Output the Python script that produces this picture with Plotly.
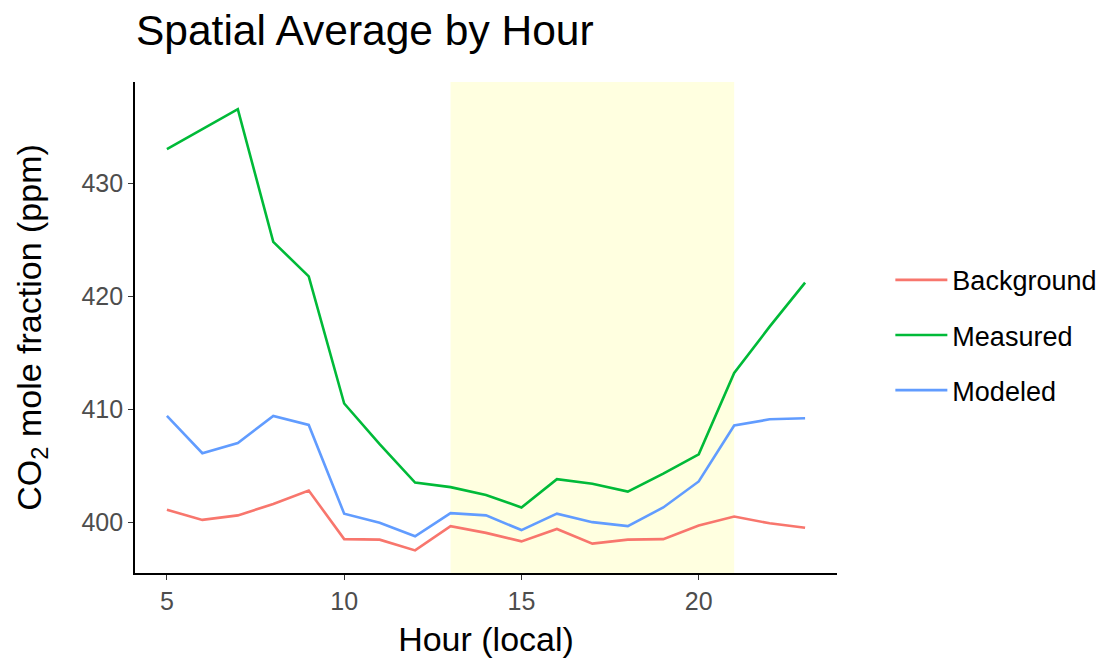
import plotly.graph_objects as go

# Hourly spatial averages of CO2 mole fraction (ppm)
hours = list(range(5, 24))
background = [401.1, 400.2, 400.6, 401.6, 402.8, 398.5, 398.45, 397.5, 399.65, 399.05,
              398.3, 399.4, 398.1, 398.45, 398.5, 399.7, 400.5, 399.9, 399.5]
measured = [433.0, 434.8, 436.55, 424.8, 421.75, 410.5, 406.9, 403.5, 403.1, 402.4,
            401.3, 403.8, 403.4, 402.7, 404.3, 406.0, 413.2, 417.3, 421.2]
modeled = [409.4, 406.1, 407.0, 409.4, 408.6, 400.75, 399.95, 398.75, 400.8, 400.6,
           399.3, 400.75, 400.0, 399.65, 401.3, 403.6, 408.55, 409.1, 409.2]

# Daytime window highlighted on the plot
day_start, day_end = 13, 21

series = [
    ("Background", background, "#F8766D"),
    ("Measured", measured, "#00BA38"),
    ("Modeled", modeled, "#619CFF"),
]

fig = go.Figure()
for name, vals, color in series:
    fig.add_trace(go.Scatter(
        x=hours, y=vals, mode="lines", name=name,
        line=dict(color=color, width=2.6),
        legendgroup=name,
    ))

fig.add_shape(
    type="rect", xref="x", yref="paper",
    x0=day_start, x1=day_end, y0=0, y1=1,
    fillcolor="#FFFFE0", line=dict(width=0), layer="below",
)

fig.update_layout(
    width=1104, height=662,
    paper_bgcolor="white", plot_bgcolor="white",
    margin=dict(l=135, r=267, t=82, b=89, autoexpand=False),
    font=dict(family="Liberation Sans, Arial, sans-serif", color="black"),
    title=dict(
        text="Spatial Average by Hour",
        x=136 / 1104, xanchor="left", y=1 - 30 / 662, yanchor="middle",
        font=dict(size=42.5, color="black"),
    ),
    legend=dict(
        x=1.076, xanchor="left", y=0.484, yanchor="middle",
        font=dict(size=27, color="black"),
        tracegroupgap=17, itemwidth=52,
        bgcolor="rgba(0,0,0,0)",
    ),
    showlegend=True,
)

fig.update_xaxes(
    range=[4.1, 23.9], tickvals=[5, 10, 15, 20],
    showline=True, linecolor="black", linewidth=1.6,
    ticks="outside", ticklen=5, tickwidth=1.4, tickcolor="#333333",
    tickfont=dict(size=25, color="#4D4D4D"),
    showgrid=False, zeroline=False,
    title=dict(text="Hour (local)", font=dict(size=34, color="black"), standoff=13),
    automargin=False,
)
fig.update_yaxes(
    range=[395.5, 438.95], tickvals=[400, 410, 420, 430],
    showline=True, linecolor="black", linewidth=1.6,
    ticks="outside", ticklen=5, tickwidth=1.4, tickcolor="#333333",
    tickfont=dict(size=25, color="#4D4D4D"),
    showgrid=False, zeroline=False,
    title=dict(text="CO<sub>2</sub> mole fraction (ppm)", font=dict(size=34, color="black"), standoff=30),
    automargin=False,
)

fig.write_html("out.html")
